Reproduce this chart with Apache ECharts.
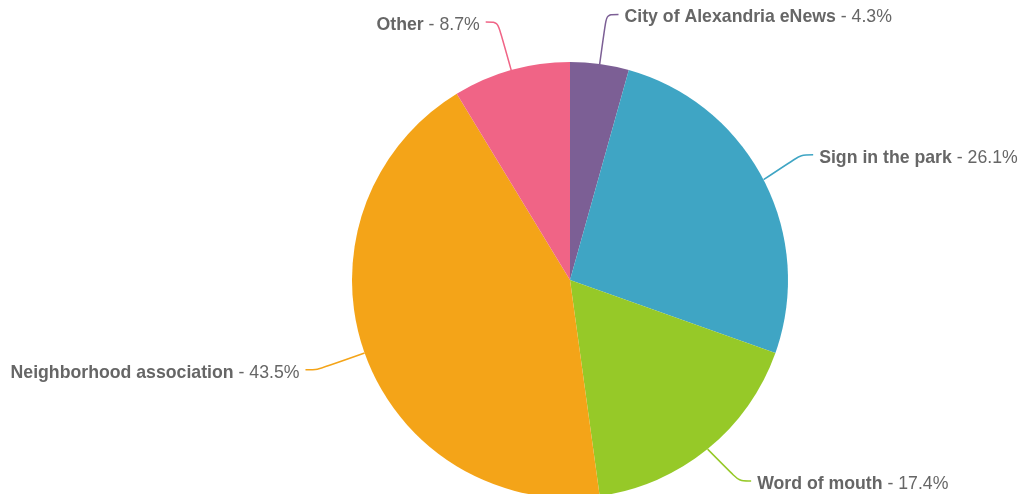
<!DOCTYPE html>
<html>
<head>
<meta charset="utf-8">
<script src="https://cdn.jsdelivr.net/npm/echarts@6/dist/echarts.min.js"></script>
<style>
html,body{margin:0;padding:0;background:#fff;}
#chart{width:1029px;height:494px;}
</style>
</head>
<body>
<div id="chart"></div>
<script>
var categories = ['City of Alexandria eNews', 'Sign in the park', 'Word of mouth', 'Neighborhood association', 'Other'];
var counts = [1, 6, 4, 10, 2];
var colors = ['#7c5f95', '#3fa5c4', '#96c928', '#f4a418', '#f06486'];

var pieData = categories.map(function (c, i) {
  return { name: c, value: counts[i] };
});

var myChart = echarts.init(document.getElementById('chart'));
var option = {
  animation: false,
  color: colors,
  series: [
    {
      type: 'pie',
      radius: 218,
      center: [570, 280],
      startAngle: 90,
      clockwise: true,
      percentPrecision: 1,
      data: pieData,
      label: {
        formatter: '{b|{b}} - {d}%',
        color: '#666',
        fontSize: 17.7,
        fontFamily: 'Liberation Sans, Arial, sans-serif',
        distanceToLabelLine: 6,
        padding: [6, 0, 0, 0],
        rich: {
          b: { fontWeight: 'bold', color: '#666', fontSize: 17.7, fontFamily: 'Liberation Sans, Arial, sans-serif' }
        }
      },
      labelLine: {
        length: 50,
        length2: 12,
        smooth: 0.3,
        lineStyle: { width: 1.5 }
      },
      itemStyle: { borderWidth: 0 }
    }
  ]
};
myChart.setOption(option);
</script>
</body>
</html>
